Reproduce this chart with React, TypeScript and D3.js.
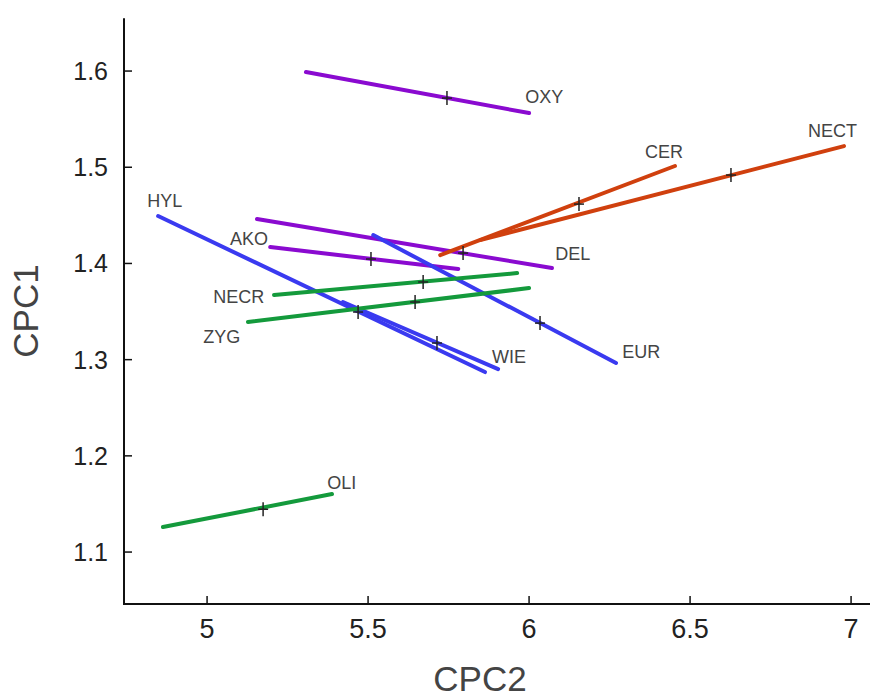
import React from "react";
import * as d3 from "d3";

const groups = ["OXY", "DEL", "AKO", "HYL", "WIE", "EUR", "NECR", "ZYG", "OLI", "CER", "NECT"];
const family = ["purple", "purple", "purple", "blue", "blue", "blue", "green", "green", "green", "orange", "orange"];
const startX = [5.307, 5.155, 5.196, 4.848, 5.422, 5.516, 5.208, 5.127, 4.863, 5.724, 5.848];
const startY = [1.599, 1.4462, 1.417, 1.4493, 1.3599, 1.4295, 1.3672, 1.3391, 1.126, 1.4087, 1.4243];
const endX = [6.0, 6.071, 5.78, 5.863, 5.904, 6.27, 5.963, 6.0, 5.388, 6.453, 6.978];
const endY = [1.5563, 1.3952, 1.3942, 1.2871, 1.2902, 1.2965, 1.39, 1.3744, 1.1603, 1.5013, 1.522];
const meanX = [5.745, 5.795, 5.509, 5.469, 5.714, 6.034, 5.671, 5.646, 5.174, 6.155, 6.627];
const meanY = [1.5719, 1.4108, 1.4046, 1.3495, 1.3173, 1.338, 1.3807, 1.3599, 1.1445, 1.4617, 1.4919];
// label anchor positions in data units (left edge / baseline)
const labelX = [5.988, 6.081, 5.071, 4.814, 5.885, 6.289, 5.019, 4.988, 5.373, 6.36, 6.866];
const labelY = [1.5667, 1.4035, 1.4191, 1.4586, 1.2965, 1.3017, 1.3588, 1.3173, 1.1655, 1.5096, 1.5314];

const xTicks = [5, 5.5, 6, 6.5, 7];
const yTicks = [1.1, 1.2, 1.3, 1.4, 1.5, 1.6];
const xDomain = [4.742, 7.06];
const yDomain = [1.046, 1.655];

const colors: Record<string, string> = {
  purple: "#8a0ad0",
  blue: "#3a3af0",
  green: "#149a3c",
  orange: "#d0400e",
};

export default function App() {
  const W = 870;
  const H = 697;
  const left = 124;
  const bottom = 604;
  const x = d3.scaleLinear().domain(xDomain).range([left, left + (xDomain[1] - xDomain[0]) * 322]);
  const y = d3.scaleLinear().domain(yDomain).range([bottom, bottom - (yDomain[1] - yDomain[0]) * 962]);
  const top = y(yDomain[1]);
  const right = x(xDomain[1]);
  const font = "'Liberation Sans', Arial, sans-serif";

  return (
    <svg
      width={W}
      height={H}
      style={{ position: "absolute", left: 0, top: 0, background: "#fff" }}
      fontFamily={font}
    >
      <rect x={0} y={0} width={W} height={H} fill="#fff" />
      {groups.map((g, i) => (
        <line
          key={g}
          x1={x(startX[i])}
          y1={y(startY[i])}
          x2={x(endX[i])}
          y2={y(endY[i])}
          stroke={colors[family[i]]}
          strokeWidth={4}
          strokeLinecap="round"
        />
      ))}
      {groups.map((g, i) => {
        const mx = x(meanX[i]);
        const my = y(meanY[i]);
        return (
          <g key={g + "m"} stroke="#222" strokeWidth={1.5}>
            <line x1={mx} y1={my - 7} x2={mx} y2={my + 7} />
            <line x1={mx - 5} y1={my} x2={mx + 5} y2={my} />
          </g>
        );
      })}
      {groups.map((g, i) => (
        <text key={g + "t"} x={x(labelX[i])} y={y(labelY[i])} fontSize={18} fill="#444">
          {g}
        </text>
      ))}
      <line x1={left} y1={top} x2={left} y2={bottom} stroke="#111" strokeWidth={2} />
      <line x1={left - 1} y1={bottom} x2={right} y2={bottom} stroke="#111" strokeWidth={2} />
      {xTicks.map((t) => (
        <g key={"xt" + t}>
          <line x1={x(t)} y1={bottom} x2={x(t)} y2={bottom - 8} stroke="#111" strokeWidth={1.5} />
          <text x={x(t)} y={bottom + 34} textAnchor="middle" fontSize={27} fill="#222">
            {t}
          </text>
        </g>
      ))}
      {yTicks.map((t) => (
        <g key={"yt" + t}>
          <line x1={left} y1={y(t)} x2={left + 8} y2={y(t)} stroke="#111" strokeWidth={1.5} />
          <text x={left - 16} y={y(t)} dy="0.36em" textAnchor="end" fontSize={25} fill="#222">
            {t.toFixed(1)}
          </text>
        </g>
      ))}
      <text x={480} y={691} textAnchor="middle" fontSize={35} fill="#444">
        CPC2
      </text>
      <text transform={`translate(38,311) rotate(-90)`} textAnchor="middle" fontSize={35} fill="#444">
        CPC1
      </text>
    </svg>
  );
}
